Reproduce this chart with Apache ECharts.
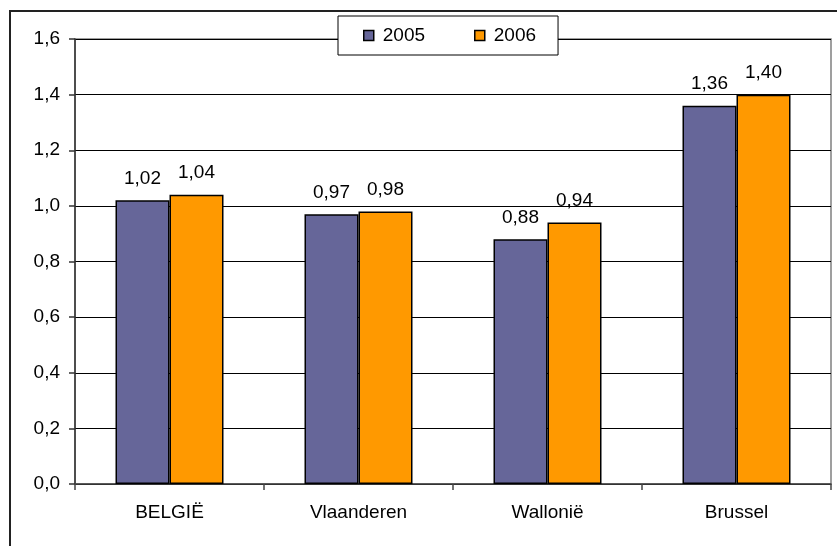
<!DOCTYPE html>
<html>
<head>
<meta charset="utf-8">
<script src="https://cdn.jsdelivr.net/npm/echarts@6/dist/echarts.min.js"></script>
<style>
  html, body { margin: 0; padding: 0; background: #fff; }
  #chart { width: 837px; height: 546px; }
</style>
</head>
<body>
<div id="chart"></div>
<script>
// data
var regions = ['BELGIË', 'Vlaanderen', 'Wallonië', 'Brussel'];
var years = ['2005', '2006'];
var values2005 = [1.02, 0.97, 0.88, 1.36];
var values2006 = [1.04, 0.98, 0.94, 1.40];
var yTicks = [0, 0.2, 0.4, 0.6, 0.8, 1.0, 1.2, 1.4, 1.6];

var FONT = '"Liberation Sans", Arial, sans-serif';
var FS = 19;
var comma = function (v, d) { return Number(v).toFixed(d).replace('.', ','); };

var chart = echarts.init(document.getElementById('chart'));

function barSeries(name, data, color) {
  return {
    name: name,
    type: 'bar',
    data: data,
    barWidth: 54,
    barGap: '0%',
    itemStyle: { color: color, borderColor: '#000', borderWidth: 1.5 },
    label: {
      show: true,
      position: 'top',
      distance: 12,
      color: '#000',
      fontFamily: FONT,
      fontSize: FS,
      formatter: function (p) { return comma(p.value, 2); }
    }
  };
}

var option = {
  animation: false,
  backgroundColor: '#fff',
  textStyle: { fontFamily: FONT },
  graphic: [
    {
      // outer chart frame (only left and top edges are in view)
      type: 'rect',
      shape: { x: 10, y: 11, width: 900, height: 700 },
      style: { fill: null, stroke: '#222', lineWidth: 2 },
      z: -1
    }
  ],
  legend: {
    data: years,
    left: 338,
    top: 16,
    padding: [10, 22, 10, 25],
    itemGap: 49,
    itemWidth: 10,
    itemHeight: 10,
    icon: 'rect',
    borderColor: '#000',
    borderWidth: 1,
    backgroundColor: '#fff',
    itemStyle: { borderColor: '#000', borderWidth: 1.5 },
    textStyle: { color: '#000', fontSize: FS, fontFamily: FONT, padding: [0, 0, 0, 4] },
    z: 10
  },
  grid: {
    left: 75,
    right: 6,
    top: 39,
    bottom: 62,
    show: true,
    borderColor: '#808080',
    borderWidth: 1.5,
    containLabel: false
  },
  xAxis: {
    type: 'category',
    data: regions,
    axisLine: { lineStyle: { color: '#444', width: 1.5 } },
    axisTick: { show: true, length: 6, lineStyle: { color: '#444', width: 1.5 } },
    axisLabel: { color: '#000', fontSize: FS, fontFamily: FONT, margin: 19 }
  },
  yAxis: {
    type: 'value',
    min: yTicks[0],
    max: yTicks[yTicks.length - 1],
    interval: 0.2,
    axisLine: { show: true, lineStyle: { color: '#333', width: 1.5 } },
    axisTick: { show: true, length: 6, lineStyle: { color: '#333', width: 1.5 } },
    splitLine: { show: true, lineStyle: { color: '#000', width: 1 } },
    axisLabel: {
      color: '#000',
      fontSize: FS,
      fontFamily: FONT,
      margin: 15,
      formatter: function (v) { return comma(v, 1); }
    }
  },
  series: [
    barSeries(years[0], values2005, '#666699'),
    barSeries(years[1], values2006, '#FF9900')
  ]
};

chart.setOption(option);
</script>
</body>
</html>
